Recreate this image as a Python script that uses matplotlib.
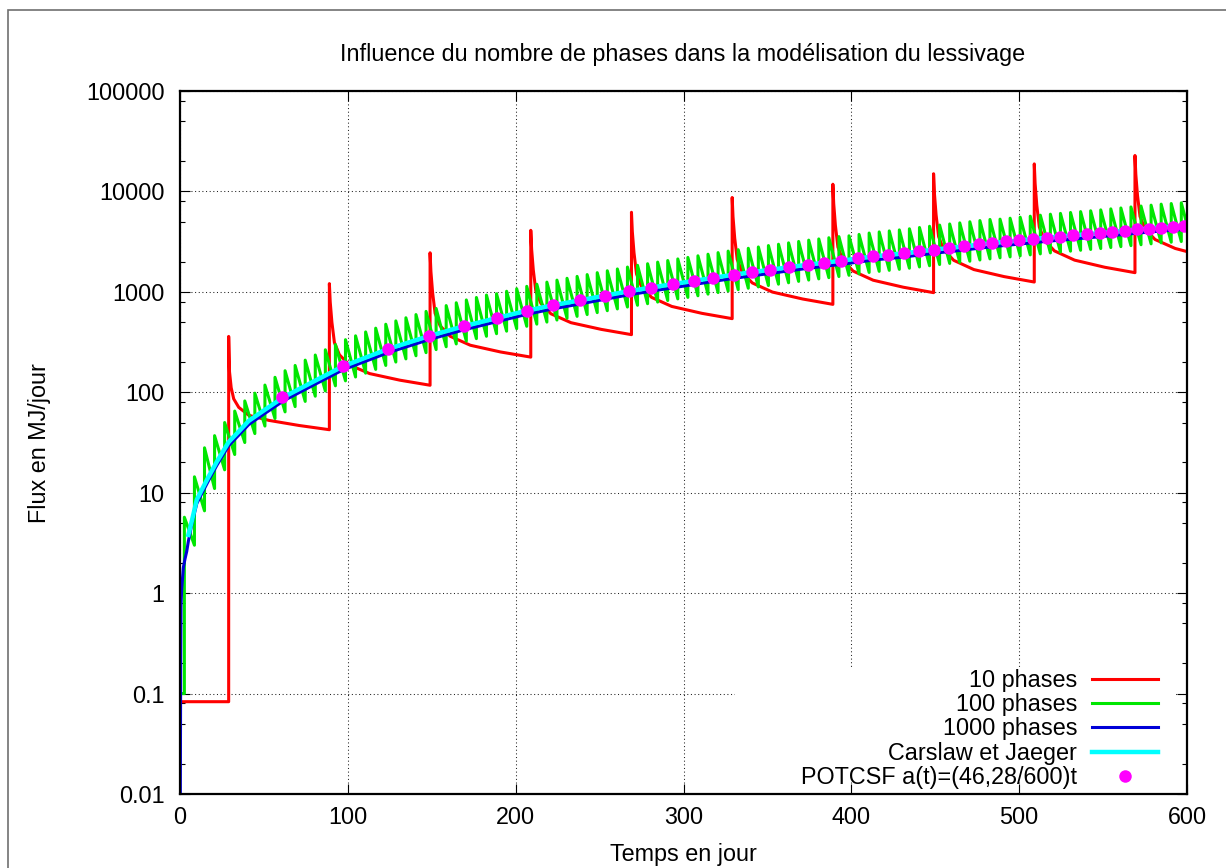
import matplotlib
matplotlib.use('Agg')
import matplotlib.pyplot as plt
from matplotlib.ticker import FixedLocator, LogLocator, FuncFormatter, NullFormatter
from matplotlib.patches import Rectangle
from matplotlib.lines import Line2D

plt.rcParams['font.family'] = ['Liberation Sans', 'DejaVu Sans']

# --- 10 phases (red): time (days), flux (MJ/day)
red_t = [0, 29,
         29, 29.5, 30.5, 32, 35, 41, 53, 71, 89,
         89, 89.5, 90.5, 92, 95, 101, 113, 131, 149,
         149, 149.5, 150.5, 152, 155, 161, 173, 191, 209,
         209, 209.5, 210.5, 212, 215, 221, 233, 251, 269,
         269, 269.5, 270.5, 272, 275, 281, 293, 311, 329,
         329, 329.5, 330.5, 332, 335, 341, 353, 371, 389,
         389, 389.5, 390.5, 392, 395, 401, 413, 431, 449,
         449, 449.5, 450.5, 452, 455, 461, 473, 491, 509,
         509, 509.5, 510.5, 512, 515, 521, 533, 551, 569,
         569, 569.5, 570.5, 572, 575, 581, 593, 600]
red_f = [0.083, 0.083,
         360, 160, 111, 86, 70.8, 59, 52.5, 46.7, 42.4,
         1208, 794, 498, 313, 236, 187, 153.5, 132, 117.5,
         2450, 1592, 986, 611, 459, 361, 294, 252, 224,
         4100, 2667, 1652, 1023, 769, 605, 493, 423, 375,
         6200, 3990, 2455, 1507, 1125, 881, 716, 611, 541,
         8700, 5598, 3436, 2104, 1567, 1227, 995, 849, 751,
         11800, 7551, 4592, 2793, 2070, 1614, 1306, 1112, 982,
         15000, 9594, 5834, 3556, 2636, 2061, 1667, 1419, 1253,
         18800, 11995, 7278, 4426, 3281, 2559, 2070, 1758, 1553,
         22800, 14791, 9141, 5636, 4227, 3319, 2704, 2518]

# --- 100 phases (green): start of each phase, flux just before the jump, flux at the peak
green_start = (0.5, 0.1)
green_jump_t = [2.6, 8.6, 14.6, 20.6, 26.6, 32.6, 38.6, 44.6, 50.6, 56.6,
                62.6, 68.6, 74.6, 80.6, 86.6, 92.6, 98.6, 104.6, 110.6, 116.6,
                122.6, 128.6, 134.6, 140.6, 146.6, 152.6, 158.6, 164.6, 170.6, 176.6,
                182.6, 188.6, 194.6, 200.6, 206.6, 212.6, 218.6, 224.6, 230.6, 236.6,
                242.6, 248.6, 254.6, 260.6, 266.6, 272.6, 278.6, 284.6, 290.6, 296.6,
                302.6, 308.6, 314.6, 320.6, 326.6, 332.6, 338.6, 344.6, 350.6, 356.6,
                362.6, 368.6, 374.6, 380.6, 386.6, 392.6, 398.6, 404.6, 410.6, 416.6,
                422.6, 428.6, 434.6, 440.6, 446.6, 452.6, 458.6, 464.6, 470.6, 476.6,
                482.6, 488.6, 494.6, 500.6, 506.6, 512.6, 518.6, 524.6, 530.6, 536.6,
                542.6, 548.6, 554.6, 560.6, 566.6, 572.6, 578.6, 584.6, 590.6, 596.6]
green_before = [0.1, 3.0, 6.6, 11, 16.9, 24, 31.6, 38.8, 46.1, 54.8,
                63.8, 72, 81.1, 91.4, 103, 116, 130, 142, 155, 169,
                185, 200, 215, 231, 248, 266, 284, 303, 323, 342,
                361, 383, 406, 430, 454, 477, 500, 524, 546, 570,
                594, 621, 649, 676, 706, 735, 762, 791, 820, 851,
                881, 914, 949, 984, 1019, 1052, 1086, 1120, 1156, 1192,
                1231, 1271, 1310, 1346, 1384, 1420, 1462, 1511, 1560, 1600,
                1637, 1675, 1719, 1770, 1820, 1870, 1919, 1968, 2019, 2076,
                2129, 2181, 2229, 2281, 2334, 2388, 2444, 2489, 2542, 2593,
                2643, 2699, 2762, 2819, 2885, 2945, 3007, 3077, 3120, 3170]
green_peak = [5.7, 14.4, 28, 37, 50, 65, 82, 98, 118, 141,
              164, 185, 209, 235, 265, 299, 334, 365, 399, 435,
              476, 514, 552, 594, 639, 684, 730, 779, 831, 879,
              929, 957, 1014, 1074, 1135, 1191, 1250, 1309, 1365, 1426,
              1486, 1553, 1622, 1691, 1766, 1838, 1906, 1978, 2051, 2128,
              2203, 2286, 2371, 2459, 2546, 2630, 2716, 2800, 2891, 2980,
              3077, 3176, 3274, 3365, 3460, 3549, 3614, 3733, 3854, 3955,
              4046, 4140, 4247, 4375, 4498, 4623, 4744, 4865, 4989, 5129,
              5261, 5297, 5413, 5539, 5668, 5800, 5935, 6045, 6173, 6297,
              6419, 6554, 6707, 6846, 7006, 7152, 7302, 7472, 7577, 7699]
green_end = (600, 4677)

# --- 1000 phases (blue)
blue_t = [0, 0.2, 0.4, 0.6, 1.0, 2, 3, 4, 5, 7, 10, 13, 17, 22, 29, 35, 41, 50, 62, 80,
          97, 124, 149, 169, 189, 206, 222, 238, 253, 267, 280, 294, 306, 318, 330, 352,
          374, 394, 413, 431, 449, 467, 484, 500, 516, 532, 548, 563, 584, 600]
blue_f = [0.003, 0.01, 0.2, 0.75, 1.1, 1.8, 2.2, 2.6, 3.3, 4.8, 7.8, 9.8, 13.2, 18.8, 29.4,
          37.4, 47.8, 60.7, 82.8, 119, 167, 248, 337, 418, 506, 594, 676, 756, 843, 931,
          1011, 1101, 1182, 1273, 1364, 1530, 1717, 1879, 2074, 2222, 2420, 2611, 2817,
          2991, 3182, 3356, 3538, 3739, 4034, 4205]

# --- Carslaw et Jaeger (cyan)
cj_t = [5, 7, 10, 13, 17, 22, 29, 35, 41, 50, 62, 80, 97, 124, 149, 169, 189, 206, 222,
        238, 253, 267, 280, 294, 306, 318, 330, 352, 374, 394, 413, 431, 449, 467, 484,
        500, 516, 532, 548, 563, 584, 600]
cj_f = [3.8, 5.2, 8.5, 10.7, 14.4, 20.4, 32, 40.7, 52, 66, 90, 129, 181, 270, 366, 454,
        550, 646, 735, 822, 916, 1012, 1099, 1197, 1285, 1384, 1483, 1663, 1866, 2042,
        2254, 2415, 2630, 2838, 3062, 3251, 3459, 3648, 3846, 4064, 4385, 4571]

# --- POTCSF (magenta dots)
pot_t = [61, 97, 124, 148.6, 169, 188.6, 206.5, 222.4, 238.4, 253.4, 267.4, 280.5,
         293.6, 306, 317.8, 329.8, 340.8, 351.7, 362.6, 374.0, 383.9, 393.9, 403.8,
         412.7, 421.9, 431.2, 440.1, 449.1, 458.0, 467.0, 475.9, 484.1, 492.0, 500.1,
         508.2, 516.4, 524.3, 532.3, 540.2, 548.2, 555.2, 563.1, 570.1, 577.4, 584.4,
         591.4, 598.3]
pot_f = [90, 181, 270, 366, 454, 550, 646, 735, 822, 916, 1012, 1100, 1196, 1280, 1384,
         1483, 1563, 1663, 1766, 1866, 1954, 2042, 2150, 2255, 2344, 2415, 2547, 2630,
         2729, 2838, 2972, 3062, 3177, 3251, 3360, 3459, 3540, 3648, 3758, 3846, 3936,
         4064, 4188, 4250, 4315, 4386, 4487]

labels = ['10 phases', '100 phases', '1000 phases', 'Carslaw et Jaeger',
          'POTCSF a(t)=(46,28/600)t']

RED, GREEN, BLUE, CYAN, MAGENTA = '#ff0000', '#00e600', '#0000d8', '#00ffff', '#ff00ff'
FS = 16.8

# green sawtooth: jump at the start of every phase
green_t = [green_start[0]]
green_f = [green_start[1]]
for t, lo, hi in zip(green_jump_t, green_before, green_peak):
    green_t += [t, t]
    green_f += [lo, hi]
green_t.append(green_end[0])
green_f.append(green_end[1])

fig = plt.figure(figsize=(12.26, 8.68), dpi=100)
ax = fig.add_axes([180 / 1226, 74 / 868, 1007 / 1226, 703 / 868])

ax.plot(red_t, red_f, color=RED, lw=2.2, zorder=2)
ax.plot(green_t, green_f, color=GREEN, lw=2.2, zorder=2.1)
ax.plot(blue_t, blue_f, color=BLUE, lw=2.2, zorder=2.2)
ax.plot(cj_t, cj_f, color=CYAN, lw=3.2, zorder=2.3)
ax.plot(pot_t, pot_f, 'o', color=MAGENTA, ms=9, mec='none', zorder=2.4)

ax.set_yscale('log')
ax.set_xlim(0, 600)
ax.set_ylim(0.01, 100000)
ax.xaxis.set_major_locator(FixedLocator([0, 100, 200, 300, 400, 500, 600]))
ax.yaxis.set_major_locator(LogLocator(base=10, numticks=20))
ax.yaxis.set_minor_locator(LogLocator(base=10, subs=(2, 5, 8), numticks=20))
ax.yaxis.set_major_formatter(FuncFormatter(lambda v, p: '%g' % v))
ax.yaxis.set_minor_formatter(NullFormatter())

ax.tick_params(which='both', direction='in', top=True, right=True, labelsize=FS, width=0.8)
ax.tick_params(which='major', length=7.2)
ax.tick_params(which='minor', length=3.6)
ax.tick_params(axis='y', pad=11)
ax.tick_params(axis='x', pad=9)
for s in ax.spines.values():
    s.set_linewidth(1.6)

ax.set_axisbelow(True)
ax.grid(True, which='major', color='#222222', lw=0.75, linestyle=(0, (1, 2.5)))

# white area behind the key hides the grid
ax.add_patch(Rectangle((555 / 1007, 12 / 703), 1 - 555 / 1007 - 11 / 1007, 115 / 703,
                       transform=ax.transAxes, fc='white', ec='none', zorder=1))

handles = [Line2D([], [], color=RED, lw=2.2),
           Line2D([], [], color=GREEN, lw=2.2),
           Line2D([], [], color=BLUE, lw=2.2),
           Line2D([], [], color=CYAN, lw=3.2),
           Line2D([], [], marker='o', ls='none', color=MAGENTA, ms=9, mec='none')]
leg = ax.legend(handles, labels, loc='lower right', frameon=False, markerfirst=False,
                fontsize=FS, handlelength=2.83, handletextpad=0.64, labelspacing=0.055,
                borderaxespad=0, borderpad=0, numpoints=1,
                bbox_to_anchor=(978 / 1007, 5 / 703))
for col in leg._legend_handle_box.get_children():
    col.align = 'right'

fig.text(683 / 1226, 1 - 55 / 868, 'Influence du nombre de phases dans la modélisation du lessivage',
         ha='center', va='center', fontsize=FS)
fig.text(683 / 1226, 1 - 855 / 868, 'Temps en jour', ha='center', va='center', fontsize=FS)
fig.text(40 / 1226, 1 - 443 / 868, 'Flux en MJ/jour', ha='center', va='center',
         rotation=90, fontsize=FS)

fig.add_artist(Rectangle((8 / 1226, -0.1), 1.2, 1.1 - 10 / 868, transform=fig.transFigure,
                         fill=False, ec='#707070', lw=1.2))

fig.savefig('out.png', dpi=100)
